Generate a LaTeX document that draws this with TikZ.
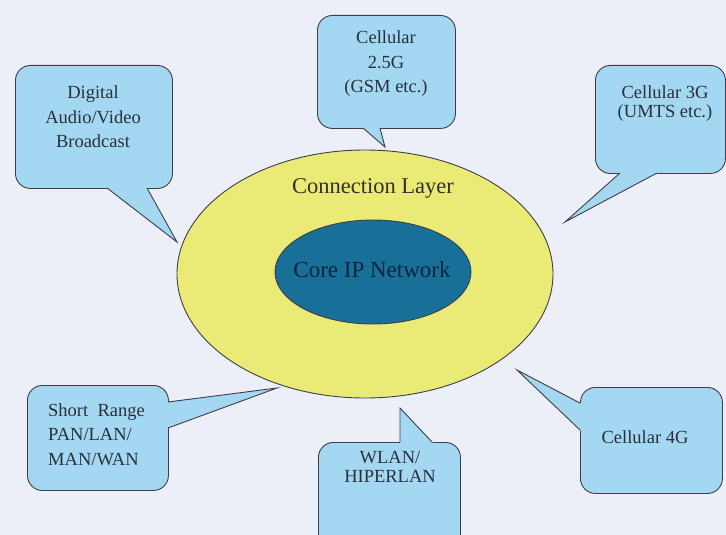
\documentclass[tikz,border=0pt]{standalone}
\usepackage{fontspec}
\setmainfont{Liberation Serif}
\usetikzlibrary{calc,shapes.geometric}

\definecolor{bg}{RGB}{236,238,248}
\definecolor{bubblefill}{RGB}{164,216,242}
\definecolor{layerfill}{RGB}{234,234,118}
\definecolor{corefill}{RGB}{24,112,152}
\definecolor{edge}{RGB}{62,62,72}
\definecolor{ink}{RGB}{40,48,60}
\definecolor{coreink}{RGB}{10,36,58}

% tail of a speech bubble: two base points on the box edge and a tip
\newcommand\bubbletail[3]{%
  \fill[bubblefill] (#3) -- ($(#3)!1.12!(#1)$) -- ($(#3)!1.12!(#2)$) -- cycle;
  \draw[tailline] (#1) -- (#3) -- (#2);
}

\begin{document}
\begin{tikzpicture}[x=1pt,y=-1pt,
  bubble/.style={draw=edge, line width=0.9pt, fill=bubblefill,
    rounded corners=15pt, inner sep=0pt, anchor=north west},
  tailline/.style={draw=edge, line width=0.9pt, line join=miter},
  boxtext/.style={text=ink, font=\fontsize{18.5}{24.5}\selectfont,
    align=center, inner sep=0pt},
  tighttext/.style={boxtext, font=\fontsize{18.5}{19}\selectfont},
]
\useasboundingbox (0,0) rectangle (726,535);
\fill[bg] (0,0) rectangle (726,535);
\clip (0,0) rectangle (726,535);

% connection layer and core network
\node[draw=edge, line width=0.9pt, fill=layerfill, ellipse, inner sep=0pt,
  minimum width=376pt, minimum height=248pt] (conn) at (365,274) {};
\node[draw=edge, line width=0.9pt, fill=corefill, ellipse, inner sep=0pt,
  minimum width=196pt, minimum height=104pt] (core) at (373,272) {};
\node[anchor=base, inner sep=0pt, text=black!85!olive,
  font=\fontsize{22.5}{27}\selectfont] (connlbl) at (373,193) {Connection Layer};
\node[anchor=base, inner sep=0pt, text=coreink,
  font=\fontsize{23}{27}\selectfont] (corelbl) at (372,277) {Core IP Network};

% Digital Audio/Video Broadcast
\node[bubble, minimum width=157pt, minimum height=123pt] (dvb) at (15,65) {};
\coordinate (dvbA) at (107,188);
\coordinate (dvbB) at (147,188);
\coordinate (dvbT) at (177,242);
\bubbletail{dvbA}{dvbB}{dvbT}
\node[boxtext] (dvbtxt) at (93,117) {Digital\\Audio/Video\\Broadcast};

% Cellular 2.5G
\node[bubble, minimum width=138pt, minimum height=113pt] (gsm) at (317,15) {};
\coordinate (gsmA) at (363,128);
\coordinate (gsmB) at (380,128);
\coordinate (gsmT) at (385,147);
\bubbletail{gsmA}{gsmB}{gsmT}
\node[boxtext] (gsmtxt) at (386,64) {Cellular\\2.5G\\(GSM etc.)};

% Cellular 3G
\node[bubble, minimum width=130pt, minimum height=108pt] (umts) at (595,65) {};
\coordinate (umtsA) at (620,173);
\coordinate (umtsB) at (657,173);
\coordinate (umtsT) at (565,222);
\bubbletail{umtsA}{umtsB}{umtsT}
\node[tighttext] (umtstxt) at (665,104) {Cellular 3G\\(UMTS etc.)};

% Short range networks
\node[bubble, minimum width=141pt, minimum height=105pt] (pan) at (27,385) {};
\coordinate (panA) at (168,402);
\coordinate (panB) at (168,428);
\coordinate (panT) at (277,388);
\bubbletail{panA}{panB}{panT}
\node[boxtext, align=left, anchor=west] (pantxt) at (48,434.5)
  {Short\hspace{0.5em}Range\\PAN/LAN/\\MAN/WAN};

% WLAN / HIPERLAN
\node[bubble, minimum width=142pt, minimum height=110pt] (wlan) at (318,442) {};
\coordinate (wlanA) at (400,442);
\coordinate (wlanB) at (432,442);
\coordinate (wlanT) at (400,408);
\bubbletail{wlanA}{wlanB}{wlanT}
\node[tighttext] (wlantxt) at (390,466.5) {WLAN/\\HIPERLAN};

% Cellular 4G
\node[bubble, minimum width=142pt, minimum height=106pt] (fourg) at (580,387) {};
\coordinate (fourgA) at (580,403);
\coordinate (fourgB) at (580,430);
\coordinate (fourgT) at (517,370);
\bubbletail{fourgA}{fourgB}{fourgT}
\node[boxtext] (fourgtxt) at (645,437.5) {Cellular 4G};
\end{tikzpicture}
\end{document}
